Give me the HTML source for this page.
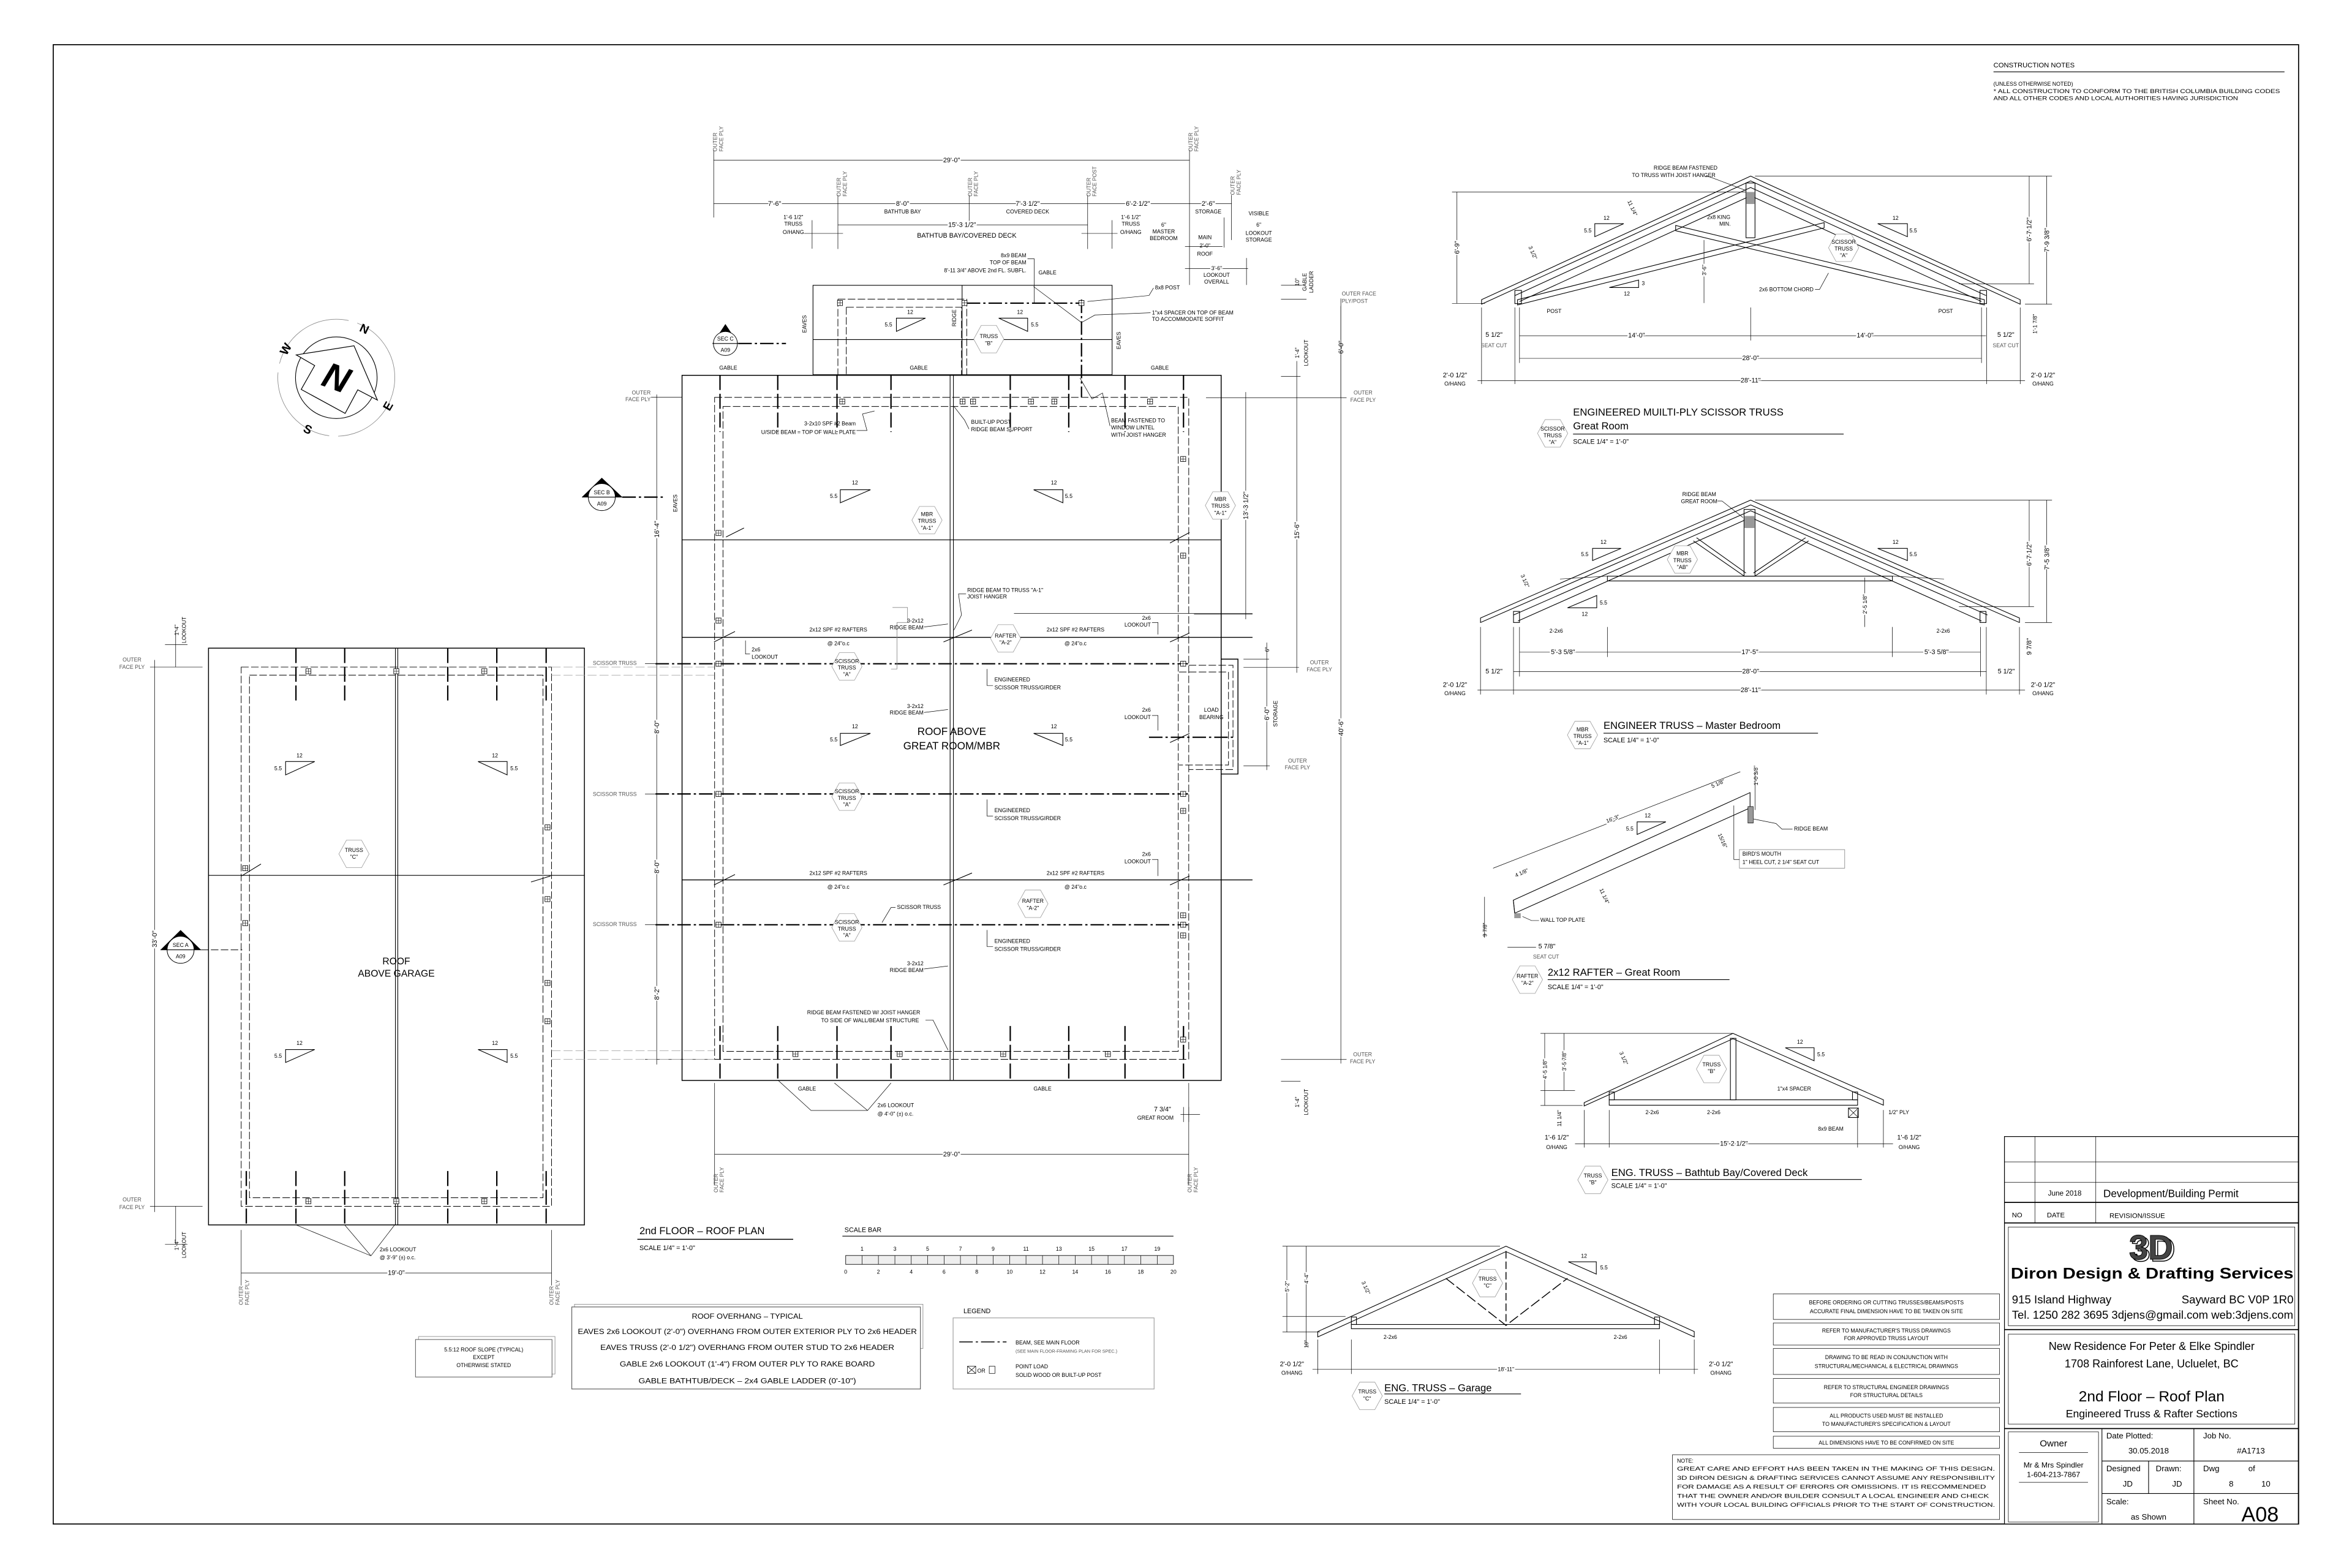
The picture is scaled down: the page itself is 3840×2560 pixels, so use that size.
<!DOCTYPE html>
<html><head><meta charset="utf-8"><style>
html,body{margin:0;padding:0;background:#fff;}
svg{display:block;}
text{font-family:"Liberation Sans",sans-serif;fill:#000;}
.s{font-size:3.6px;}
.m{font-size:4.4px;}
.g{fill:#555;}
.w{paint-order:stroke;stroke:#fff;stroke-width:1.6px;}
.l{stroke:#000;stroke-width:.45;fill:none;}
.lt{stroke:#000;stroke-width:.3;fill:none;}
.th{stroke:#000;stroke-width:.9;fill:none;}
.gr{stroke:#888;stroke-width:.35;fill:none;}
.da{stroke:#000;stroke-width:.4;fill:none;stroke-dasharray:5 1.6;}
.dd{stroke:#000;stroke-width:.9;fill:none;stroke-dasharray:9 2 1.5 2;}
.tk{stroke:#000;stroke-width:.9;fill:none;stroke-dasharray:10 2.5;}
.hx{stroke:#999;stroke-width:.35;fill:#fff;}
</style></head><body>
<svg width="3840" height="2560" viewBox="0 0 1568 1045.33" preserveAspectRatio="none" xmlns="http://www.w3.org/2000/svg">
<rect x="0" y="0" width="1568" height="1046" fill="#fff"/>
<defs>
<symbol id="hx" viewBox="-12 -11 24 22" overflow="visible"><polygon class="hx" points="-11,0 -5.5,-10 5.5,-10 11,0 5.5,10 -5.5,10"/></symbol>
<symbol id="sq" overflow="visible"><rect x="-1.7" y="-1.7" width="3.4" height="3.4" fill="#fff" stroke="#000" stroke-width=".35"/><path d="M-1.7 0H1.7M0 -1.7V1.7" stroke="#000" stroke-width=".25"/></symbol>
</defs>

<!-- border -->
<rect x="35.5" y="29.8" width="1496.9" height="986.2" class="th" style="stroke-width:.7"/>

<!-- construction notes -->
<text x="1329" y="44.9" style="font-size:4.6px">CONSTRUCTION NOTES</text>
<line x1="1329" y1="47.9" x2="1523" y2="47.9" class="l"/>
<text x="1329" y="57.2" class="s">(UNLESS OTHERWISE NOTED)</text>
<text x="1329" y="62" class="s" textLength="191" lengthAdjust="spacingAndGlyphs">* ALL CONSTRUCTION TO CONFORM TO THE BRITISH COLUMBIA BUILDING CODES</text>
<text x="1329" y="66.7" class="s" textLength="163" lengthAdjust="spacingAndGlyphs">AND ALL OTHER CODES AND LOCAL AUTHORITIES HAVING JURISDICTION</text>

<!-- compass -->
<g>
<circle cx="224.2" cy="251.8" r="39" class="gr" stroke-dasharray="60 6"/>
<circle cx="224.2" cy="251.8" r="27.2" class="l"/>
<polygon points="197.5,236.6 236,230.5 251.6,266.7 238.5,259.9 230.1,275.6 200.8,259.6 209.8,243.7" fill="#fff" stroke="#000" stroke-width=".5"/>
<text x="224.2" y="260" text-anchor="middle" transform="rotate(20 224.2 252)" style="font-size:24px;font-weight:bold;font-style:italic">N</text>
<text x="243" y="222" text-anchor="middle" transform="rotate(25 243 219)" style="font-size:8px;font-weight:bold">N</text>
<text x="190.3" y="235.5" text-anchor="middle" transform="rotate(-60 190.3 232.6)" style="font-size:8px;font-weight:bold">W</text>
<text x="258.6" y="273.5" text-anchor="middle" transform="rotate(-60 258.6 270.7)" style="font-size:8px;font-weight:bold">E</text>
<text x="205.3" y="289" text-anchor="middle" transform="rotate(25 205.3 286)" style="font-size:8px;font-weight:bold">S</text>
</g>

<!-- ============ TOP DIMENSIONS ============ -->
<g>
<line x1="475.8" y1="106.8" x2="793" y2="106.8" class="lt"/>
<text x="634.4" y="108.2" text-anchor="middle" class="m w">29'-0"</text>
<line x1="475.8" y1="100" x2="475.8" y2="145" class="lt"/>
<line x1="793" y1="100" x2="793" y2="190" class="lt"/>
<text x="0" y="0" class="s g" transform="translate(478,101) rotate(-90)">OUTER</text>
<text x="0" y="0" class="s g" transform="translate(482,101) rotate(-90)">FACE PLY</text>
<text x="0" y="0" class="s g" transform="translate(795,101) rotate(-90)">OUTER</text>
<text x="0" y="0" class="s g" transform="translate(799,101) rotate(-90)">FACE PLY</text>
<line x1="475.8" y1="135.7" x2="821" y2="135.7" class="lt"/>
<text x="516.4" y="137.1" text-anchor="middle" class="m w">7'-6"</text>
<text x="601.7" y="137.1" text-anchor="middle" class="m w">8'-0"</text>
<text x="685.1" y="137.1" text-anchor="middle" class="m w">7'-3 1/2"</text>
<text x="758.6" y="137.1" text-anchor="middle" class="m w">6'-2 1/2"</text>
<text x="805.5" y="137.1" text-anchor="middle" class="m w">2'-6"</text>
<text x="601.7" y="142.4" text-anchor="middle" class="s">BATHTUB BAY</text>
<text x="685.1" y="142.4" text-anchor="middle" class="s">COVERED DECK</text>
<text x="805.5" y="142.4" text-anchor="middle" class="s">STORAGE</text>
<line x1="558.6" y1="130" x2="558.6" y2="166" class="lt"/>
<line x1="646.1" y1="130" x2="646.1" y2="150" class="lt"/>
<line x1="725.1" y1="130" x2="725.1" y2="166" class="lt"/>
<line x1="821" y1="130" x2="821" y2="160" class="lt"/>
<text class="s g" transform="translate(560.5,131) rotate(-90)">OUTER</text><text class="s g" transform="translate(564.5,131) rotate(-90)">FACE PLY</text>
<text class="s g" transform="translate(648,131) rotate(-90)">OUTER</text><text class="s g" transform="translate(652,131) rotate(-90)">FACE PLY</text>
<text class="s g" transform="translate(727,131) rotate(-90)">OUTER</text><text class="s g" transform="translate(731,131) rotate(-90)">FACE POST</text>
<text class="s g" transform="translate(823,130) rotate(-90)">OUTER</text><text class="s g" transform="translate(827,130) rotate(-90)">FACE PLY</text>
<line x1="558.6" y1="149.9" x2="725.1" y2="149.9" class="lt"/>
<text x="641.4" y="151.3" text-anchor="middle" class="m w">15'-3 1/2"</text>
<text x="644.5" y="158.4" text-anchor="middle" class="m">BATHTUB BAY/COVERED DECK</text>
<line x1="541.4" y1="146.8" x2="541.4" y2="165.8" class="lt"/>
<line x1="741.4" y1="146.8" x2="741.4" y2="165.8" class="lt"/>
<line x1="536" y1="155.6" x2="562" y2="155.6" class="lt"/>
<line x1="721" y1="155.6" x2="745" y2="155.6" class="lt"/>
<text x="528.9" y="146" text-anchor="middle" class="s">1'-6 1/2"</text><text x="528.9" y="150.5" text-anchor="middle" class="s">TRUSS</text><text x="528.9" y="156" text-anchor="middle" class="s">O/HANG</text>
<text x="753.9" y="146" text-anchor="middle" class="s">1'-6 1/2"</text><text x="753.9" y="150.5" text-anchor="middle" class="s">TRUSS</text><text x="753.9" y="156" text-anchor="middle" class="s">O/HANG</text>
<text x="775.8" y="151" text-anchor="middle" class="s">6"</text><text x="775.8" y="155.5" text-anchor="middle" class="s">MASTER</text><text x="775.8" y="160" text-anchor="middle" class="s">BEDROOM</text>
<text x="803.3" y="159.5" text-anchor="middle" class="s">MAIN</text><text x="803.3" y="165" text-anchor="middle" class="s">2'-0"</text><text x="803.3" y="170.5" text-anchor="middle" class="s">ROOF</text>
<text x="839.2" y="143.5" text-anchor="middle" class="s">VISIBLE</text><text x="839.2" y="151" text-anchor="middle" class="s">6"</text><text x="839.2" y="156.5" text-anchor="middle" class="s">LOOKOUT</text><text x="839.2" y="161" text-anchor="middle" class="s">STORAGE</text>
<line x1="790" y1="164.4" x2="815" y2="164.4" class="lt"/>
<line x1="790" y1="179" x2="832" y2="179" class="lt"/>
<line x1="816" y1="145" x2="816" y2="165" class="lt"/>
<line x1="831" y1="172" x2="831" y2="190" class="lt"/>
<text x="811.1" y="180" text-anchor="middle" class="s w">3'-6"</text><text x="811.1" y="184.5" text-anchor="middle" class="s">LOOKOUT</text><text x="811.1" y="189" text-anchor="middle" class="s">OVERALL</text>
</g>

<!-- ============ BAY (top) ============ -->
<g>
<rect x="542" y="190.2" width="199.4" height="59.6" class="l"/>
<line x1="641.4" y1="190.2" x2="641.4" y2="250" class="l"/>
<line x1="542" y1="226.4" x2="741.4" y2="226.4" class="l"/>
<path d="M558.6 199.4H644.5V250M558.6 199.4V250" class="da"/>
<path d="M564.2 204.8H641V250M564.2 204.8V250" class="da"/>
<line x1="644.5" y1="202.1" x2="721" y2="202.1" class="dd"/>
<line x1="721" y1="199.7" x2="721" y2="264.7" class="dd"/>
<use href="#sq" x="560" y="202"/><use href="#sq" x="643" y="202"/><use href="#sq" x="721" y="202"/>
<text class="s" transform="translate(537.5,216) rotate(-90)" text-anchor="middle">EAVES</text>
<text class="s" transform="translate(637.5,212) rotate(-90)" text-anchor="middle">RIDGE</text>
<text class="s" transform="translate(747,227) rotate(-90)" text-anchor="middle">EAVES</text>
<polygon points="597.6,220.9 597.6,212.1 617,212.1" class="l"/><text x="604.8" y="209.2" class="s">12</text><text x="592.3" y="217.6" class="s" text-anchor="middle">5.5</text>
<polygon points="665.8,212.1 685.1,212.1 685.1,220.9" class="l"/><text x="678" y="209.2" class="s">12</text><text x="689.8" y="217.6" class="s" text-anchor="middle">5.5</text>
<use href="#hx" x="648.2" y="215.1" width="22" height="22"/>
<text x="659.2" y="225.5" class="s" text-anchor="middle">TRUSS</text><text x="659.2" y="230" class="s" text-anchor="middle">"B"</text>
<text x="684.2" y="171.4" class="s" text-anchor="end">8x9 BEAM</text>
<text x="684.2" y="176.2" class="s" text-anchor="end">TOP OF BEAM</text>
<text x="684.2" y="181.5" class="s" text-anchor="end">8'-11 3/4" ABOVE 2nd FL. SUBFL.</text>
<path d="M685 172.5H689.5V202" class="lt"/>
<text x="698.3" y="183" class="s" text-anchor="middle">GABLE</text>
<text x="770" y="193" class="s">8x8 POST</text><path d="M769 192 L766 197 L725 201" class="lt"/>
<text x="768" y="209.6" class="s">1"x4 SPACER ON TOP OF BEAM</text>
<text x="768" y="214" class="s">TO ACCOMMODATE SOFFIT</text>
<path d="M767 208.5 L730 210 L721 215" class="lt"/>
<path d="M689 191 L721 215" class="lt"/>
<!-- sec C -->
<polygon points="475,229 483.6,216 492.2,229" fill="#000"/>
<circle cx="483.6" cy="229" r="8" fill="#fff" stroke="#000" stroke-width=".4"/>
<line x1="475" y1="229" x2="492.2" y2="229" class="l"/>
<text x="483.6" y="227" class="s" text-anchor="middle">SEC C</text><text x="483.6" y="234.5" class="s" text-anchor="middle">A09</text>
<line x1="492.2" y1="229" x2="524" y2="229" class="dd"/>
</g>

<!-- ============ MAIN PLAN ============ -->
<g>
<rect x="454.7" y="250.2" width="359.4" height="470.1" class="l" style="stroke-width:.6"/>
<path d="M814.1 439.4H825.3V516H814.1" class="l" style="stroke-width:.6"/>
<rect x="476.4" y="264.9" width="316.1" height="441.3" class="da"/>
<rect x="482" y="271" width="303.5" height="429.9" class="da"/>
<path d="M792.5 443.5H822V513H792.5M786 448H819V510H786" class="da"/>
<line x1="633.4" y1="250" x2="633.4" y2="720" class="l"/>
<line x1="635.6" y1="250" x2="635.6" y2="720" class="l"/>
<line x1="454.7" y1="359.9" x2="814.1" y2="359.9" class="l"/>
<line x1="454.7" y1="424.9" x2="835" y2="424.9" class="th" style="stroke-width:.6"/>
<line x1="454.7" y1="586.6" x2="835" y2="586.6" class="th" style="stroke-width:.6"/>
<line x1="437" y1="442.5" x2="792" y2="442.5" class="dd"/>
<line x1="437" y1="529.3" x2="792" y2="529.3" class="dd"/>
<line x1="437" y1="616.5" x2="792" y2="616.5" class="dd"/>
<line x1="766" y1="491.5" x2="824" y2="491.5" class="dd"/>
<line x1="676" y1="409" x2="835" y2="409" class="lt"/>
<!-- ticks top & bottom -->
<path d="M480 250V288M518.5 250V288M558 250V288M594 250V288M673.5 250V288M712.5 250V288M750 250V288M789 250V288" class="tk"/>
<path d="M480 684V720M518.5 684V720M558 684V720M594 684V720M673.5 684V720M712.5 684V720M750 684V720M789 684V720" class="tk"/>
<!-- diagonal ticks -->
<path d="M476 428L490 421M484 358L496 352M476 590L490 583M629 428L648 420M629 590L648 582M780 428L793 422M780 590L793 584M780 362L793 355M780 495L793 489M487 358" class="l"/>
<!-- squares -->
<use href="#sq" x="561.5" y="267.7"/><use href="#sq" x="641.7" y="267.7"/><use href="#sq" x="648.7" y="267.7"/><use href="#sq" x="687.3" y="267.7"/><use href="#sq" x="702.9" y="267.7"/><use href="#sq" x="766.7" y="267.7"/>
<use href="#sq" x="530.3" y="702.7"/><use href="#sq" x="599.8" y="702.7"/><use href="#sq" x="668.8" y="702.7"/><use href="#sq" x="738.6" y="702.7"/>
<use href="#sq" x="479" y="355.3"/><use href="#sq" x="479" y="413.7"/><use href="#sq" x="479" y="442.5"/><use href="#sq" x="479" y="529.3"/><use href="#sq" x="479" y="616.5"/>
<use href="#sq" x="788.8" y="306"/><use href="#sq" x="788.8" y="370.4"/><use href="#sq" x="788.8" y="442.5"/><use href="#sq" x="788.8" y="529.3"/><use href="#sq" x="788.8" y="540.6"/><use href="#sq" x="788.8" y="610.2"/><use href="#sq" x="788.8" y="616.5"/><use href="#sq" x="788.8" y="623.6"/><use href="#sq" x="788.8" y="693"/>
<!-- labels -->
<text x="485.5" y="246.5" class="s" text-anchor="middle">GABLE</text>
<text x="612.5" y="246.5" class="s" text-anchor="middle">GABLE</text>
<text x="773.2" y="246.5" class="s" text-anchor="middle">GABLE</text>
<text x="570.5" y="283.5" class="s" text-anchor="end">3-2x10 SPF #2 Beam</text>
<text x="570.5" y="289.3" class="s" text-anchor="end">U/SIDE BEAM = TOP OF WALL PLATE</text>
<path d="M571 287L578 287L575 276L583 274" class="lt"/>
<text x="647.4" y="282.6" class="s">BUILT-UP POST</text><text x="647.4" y="287.5" class="s">RIDGE BEAM SUPPORT</text>
<path d="M646 286L643 280L636 271" class="lt"/>
<text x="740.7" y="281.6" class="s">BEAM FASTENED TO</text><text x="740.7" y="286.2" class="s">WINDOW LINTEL</text><text x="740.7" y="291.1" class="s">WITH JOIST HANGER</text>
<path d="M740 284L735 262L728 266L720 252" class="lt"/>
<polygon points="560.2,335.2 560.2,326.5 580.3,326.5" class="l"/><text x="568" y="323" class="s">12</text><text x="555.8" y="332" class="s" text-anchor="middle">5.5</text>
<polygon points="689.1,326.5 708.6,326.5 708.6,335.2" class="l"/><text x="700.6" y="323" class="s">12</text><text x="712.5" y="332" class="s" text-anchor="middle">5.5</text>
<use href="#hx" x="607" y="335.8" width="22" height="22"/>
<text x="618" y="344" class="s" text-anchor="middle">MBR</text><text x="618" y="348.6" class="s" text-anchor="middle">TRUSS</text><text x="618" y="353.2" class="s" text-anchor="middle">"A-1"</text>
<use href="#hx" x="802.6" y="326" width="22" height="22"/>
<text x="813.6" y="334" class="s" text-anchor="middle">MBR</text><text x="813.6" y="338.6" class="s" text-anchor="middle">TRUSS</text><text x="813.6" y="343.2" class="s" text-anchor="middle">"A-1"</text>
<text x="644.8" y="394.6" class="s">RIDGE BEAM TO TRUSS "A-1"</text><text x="644.8" y="399" class="s">JOIST HANGER</text>
<path d="M644 396L639 396L641 410L636 420" class="lt"/>
<path d="M595 405H605V415H598V446H594" class="gr"/>
<text x="615.7" y="415" class="s" text-anchor="end">3-2x12</text><text x="615.7" y="419.5" class="s" text-anchor="end">RIDGE BEAM</text>
<path d="M616 418L632 416" class="lt"/>
<text x="558.9" y="421" class="s" text-anchor="middle">2x12 SPF #2 RAFTERS</text><text x="558.9" y="430.2" class="s" text-anchor="middle">@ 24"o.c</text>
<text x="717" y="421" class="s" text-anchor="middle">2x12 SPF #2 RAFTERS</text><text x="717" y="430.2" class="s" text-anchor="middle">@ 24"o.c</text>
<use href="#hx" x="659.4" y="414.6" width="22" height="22"/>
<text x="670.4" y="425" class="s" text-anchor="middle">RAFTER</text><text x="670.4" y="429.6" class="s" text-anchor="middle">"A-2"</text>
<text x="501.1" y="434.3" class="s">2x6</text><text x="501.1" y="439.2" class="s">LOOKOUT</text>
<path d="M500 436H497V427" class="lt"/>
<text x="767.2" y="413.2" class="s" text-anchor="end">2x6</text><text x="767.2" y="417.8" class="s" text-anchor="end">LOOKOUT</text>
<path d="M768 415H772V423" class="lt"/>
<use href="#hx" x="553.6" y="433.3" width="22" height="22"/>
<text x="564.6" y="442" class="s" text-anchor="middle">SCISSOR</text><text x="564.6" y="446.4" class="s" text-anchor="middle">TRUSS</text><text x="564.6" y="450.8" class="s" text-anchor="middle">"A"</text>
<use href="#hx" x="553.6" y="520.1" width="22" height="22"/>
<text x="564.6" y="528.8" class="s" text-anchor="middle">SCISSOR</text><text x="564.6" y="533.2" class="s" text-anchor="middle">TRUSS</text><text x="564.6" y="537.6" class="s" text-anchor="middle">"A"</text>
<use href="#hx" x="553.6" y="607.3" width="22" height="22"/>
<text x="564.6" y="616" class="s" text-anchor="middle">SCISSOR</text><text x="564.6" y="620.4" class="s" text-anchor="middle">TRUSS</text><text x="564.6" y="624.8" class="s" text-anchor="middle">"A"</text>
<text x="663" y="454.3" class="s">ENGINEERED</text><text x="663" y="459.6" class="s">SCISSOR TRUSS/GIRDER</text>
<path d="M662 457H658V446" class="lt"/>
<text x="663" y="541.5" class="s">ENGINEERED</text><text x="663" y="546.7" class="s">SCISSOR TRUSS/GIRDER</text>
<path d="M662 544H658V533" class="lt"/>
<text x="663" y="628.7" class="s">ENGINEERED</text><text x="663" y="634" class="s">SCISSOR TRUSS/GIRDER</text>
<path d="M662 631H658V620" class="lt"/>
<text x="615.7" y="472" class="s" text-anchor="end">3-2x12</text><text x="615.7" y="476.4" class="s" text-anchor="end">RIDGE BEAM</text>
<path d="M616 475L632 473" class="lt"/>
<text x="615.7" y="643.5" class="s" text-anchor="end">3-2x12</text><text x="615.7" y="648" class="s" text-anchor="end">RIDGE BEAM</text>
<path d="M616 646L632 644" class="lt"/>
<text x="634.5" y="490" style="font-size:7px" text-anchor="middle">ROOF ABOVE</text>
<text x="634.5" y="499.5" style="font-size:7px" text-anchor="middle">GREAT ROOM/MBR</text>
<polygon points="560.2,497 560.2,488.9 580.3,488.9" class="l"/><text x="568" y="485.5" class="s">12</text><text x="555.8" y="494.3" class="s" text-anchor="middle">5.5</text>
<polygon points="689.1,488.9 708.6,488.9 708.6,497" class="l"/><text x="700.6" y="485.5" class="s">12</text><text x="712.5" y="494.3" class="s" text-anchor="middle">5.5</text>
<text x="767.2" y="474.4" class="s" text-anchor="end">2x6</text><text x="767.2" y="479.3" class="s" text-anchor="end">LOOKOUT</text>
<path d="M768 477H772V487" class="lt"/>
<text x="807.6" y="474.4" class="s" text-anchor="middle">LOAD</text><text x="807.6" y="479.3" class="s" text-anchor="middle">BEARING</text>
<text x="767.2" y="570.7" class="s" text-anchor="end">2x6</text><text x="767.2" y="575.6" class="s" text-anchor="end">LOOKOUT</text>
<path d="M768 573H772V584" class="lt"/>
<text x="558.9" y="583.4" class="s" text-anchor="middle">2x12 SPF #2 RAFTERS</text><text x="558.9" y="592.5" class="s" text-anchor="middle">@ 24"o.c</text>
<text x="717" y="583.4" class="s" text-anchor="middle">2x12 SPF #2 RAFTERS</text><text x="717" y="592.5" class="s" text-anchor="middle">@ 24"o.c</text>
<text x="598" y="606" class="s">SCISSOR TRUSS</text><path d="M597 605H594L588 615" class="lt"/>
<use href="#hx" x="677.6" y="591.5" width="22" height="22"/>
<text x="688.6" y="601.9" class="s" text-anchor="middle">RAFTER</text><text x="688.6" y="606.5" class="s" text-anchor="middle">"A-2"</text>
<text x="575.8" y="676.2" class="s" text-anchor="middle">RIDGE BEAM FASTENED W/ JOIST HANGER</text>
<text x="580" y="681.5" class="s" text-anchor="middle">TO SIDE OF WALL/BEAM STRUCTURE</text>
<path d="M617 680L622 680L632 700" class="lt"/>
<text x="538" y="727" class="s" text-anchor="middle">GABLE</text>
<text x="695" y="727" class="s" text-anchor="middle">GABLE</text>
<path d="M518.5 720L540.7 740.3L578.4 740.3M556.3 722L578.4 740.3L594 722" class="lt"/>
<text x="585" y="738" class="s">2x6 LOOKOUT</text><text x="585" y="743.7" class="s">@ 4'-0" (±) o.c.</text>
<text x="775" y="741" class="m" text-anchor="middle">7 3/4"</text><text x="770.3" y="746.5" class="s" text-anchor="middle">GREAT ROOM</text>
<path d="M787 743H800M789 738V748M792.5 738V748" class="lt"/>
<line x1="476.4" y1="769.5" x2="792.5" y2="769.5" class="lt"/>
<text x="634.4" y="771" class="m w" text-anchor="middle">29'-0"</text>
<path d="M476.4 722V790M792.5 722V790" class="lt"/>
<text class="s g" transform="translate(478.5,795) rotate(-90)">OUTER</text><text class="s g" transform="translate(482.5,795) rotate(-90)">FACE PLY</text>
<text class="s g" transform="translate(794.5,795) rotate(-90)">OUTER</text><text class="s g" transform="translate(798.5,795) rotate(-90)">FACE PLY</text>
<!-- left dims -->
<line x1="437.8" y1="263" x2="437.8" y2="709.7" class="lt"/>
<path d="M434 264.8H454.7M430 442.5H440M430 529.3H440M430 616.5H440M430 706.2H476" class="lt"/>
<text class="m w" transform="translate(439.3,352.8) rotate(-90)" text-anchor="middle">16'-4"</text>
<text class="m w" transform="translate(439.3,484.7) rotate(-90)" text-anchor="middle">8'-0"</text>
<text class="m w" transform="translate(439.3,577.9) rotate(-90)" text-anchor="middle">8'-0"</text>
<text class="m w" transform="translate(439.3,662.2) rotate(-90)" text-anchor="middle">8'-2"</text>
<text class="s" transform="translate(451.5,335.5) rotate(-90)" text-anchor="middle">EAVES</text>
<text x="433.8" y="263" class="s g" text-anchor="end">OUTER</text><text x="433.8" y="267.5" class="s g" text-anchor="end">FACE PLY</text>
<!-- SEC B -->
<polygon points="387.9,331.4 401.2,318.5 414.9,331.4" fill="#000"/>
<circle cx="401.2" cy="331.4" r="9" fill="#fff" stroke="#000" stroke-width=".4"/>
<line x1="388" y1="331.4" x2="414.9" y2="331.4" class="l"/>
<text x="401.2" y="329.5" class="s" text-anchor="middle">SEC B</text><text x="401.2" y="337" class="s" text-anchor="middle">A09</text>
<line x1="414.9" y1="331.4" x2="442.6" y2="331.4" class="dd"/>
<!-- right dims -->
<line x1="830.5" y1="261.4" x2="830.5" y2="412.8" class="lt"/>
<text class="m w" transform="translate(832,337) rotate(-90)" text-anchor="middle">13'-3 1/2"</text>
<line x1="864.5" y1="240.7" x2="864.5" y2="448.5" class="lt"/>
<text class="m w" transform="translate(866,353.7) rotate(-90)" text-anchor="middle">15'-6"</text>
<text class="s" transform="translate(866,235.2) rotate(-90)" text-anchor="middle">1'-4"</text>
<text class="s" transform="translate(872,235.2) rotate(-90)" text-anchor="middle">LOOKOUT</text>
<line x1="893.9" y1="204" x2="893.9" y2="709" class="lt"/>
<text class="m w" transform="translate(895.4,485) rotate(-90)" text-anchor="middle">40'-6"</text>
<text class="m w" transform="translate(895.4,231.5) rotate(-90)" text-anchor="middle">6'-0"</text>
<line x1="844.5" y1="428.4" x2="844.5" y2="513.4" class="lt"/>
<text class="m w" transform="translate(846,475.8) rotate(-90)" text-anchor="middle">6'-0"</text>
<text class="s" transform="translate(851.5,475.8) rotate(-90)" text-anchor="middle">STORAGE</text>
<text class="s" transform="translate(846,433) rotate(-90)" text-anchor="middle">6"</text>
<path d="M804 265.1H897.7M829 444.8H866M829 510.5H846.5M854 250.9H867M829 439.4H846M796 409.5H835M854 706.3H897.7M854 720.8H867M854 199.4H871M854 190.2H868" class="lt"/>
<text x="908.7" y="263" class="s g" text-anchor="middle">OUTER</text><text x="908.7" y="267.8" class="s g" text-anchor="middle">FACE PLY</text>
<text x="879.6" y="442.8" class="s g" text-anchor="middle">OUTER</text><text x="879.6" y="447.5" class="s g" text-anchor="middle">FACE PLY</text>
<text x="865" y="508.4" class="s g" text-anchor="middle">OUTER</text><text x="865" y="512.8" class="s g" text-anchor="middle">FACE PLY</text>
<text x="908.4" y="704.2" class="s g" text-anchor="middle">OUTER</text><text x="908.4" y="708.9" class="s g" text-anchor="middle">FACE PLY</text>
<text class="s" transform="translate(866,734.7) rotate(-90)" text-anchor="middle">1'-4"</text>
<text class="s" transform="translate(872,734.7) rotate(-90)" text-anchor="middle">LOOKOUT</text>
<text class="s" transform="translate(866,188) rotate(-90)" text-anchor="middle">10"</text>
<text class="s" transform="translate(871,188) rotate(-90)" text-anchor="middle">GABLE</text>
<text class="s" transform="translate(875.5,188) rotate(-90)" text-anchor="middle">LADDER</text>
<text x="894.5" y="197" class="s g">OUTER FACE</text><text x="894.5" y="202" class="s g">PLY/POST</text>
<line x1="893.9" y1="199" x2="893.9" y2="265" class="lt"/>
</g>

<!-- ============ GARAGE ============ -->
<g>
<rect x="139" y="432.1" width="250.6" height="384.5" class="l" style="stroke-width:.6"/>
<rect x="160.8" y="444.7" width="206.9" height="359.5" class="da"/>
<rect x="166.3" y="450.1" width="195.7" height="348.4" class="da"/>
<line x1="263.6" y1="432.1" x2="263.6" y2="816.6" class="l"/>
<line x1="265.2" y1="432.1" x2="265.2" y2="816.6" class="l"/>
<line x1="139" y1="583.6" x2="389.6" y2="583.6" class="l"/>
<path d="M197.3 432V468.5M229.8 432V468.5M298.5 432V468.5M331.2 432V468.5M364.1 432V468.5" class="tk"/>
<path d="M164.2 780.7V816.6M197.3 780.7V816.6M229.8 780.7V816.6M298.5 780.7V816.6M331.2 780.7V816.6M364.1 780.7V816.6" class="tk"/>
<use href="#sq" x="205.6" y="447.5"/><use href="#sq" x="264.2" y="447.5"/><use href="#sq" x="322.9" y="447.5"/>
<use href="#sq" x="205.6" y="800.8"/><use href="#sq" x="264.2" y="800.8"/><use href="#sq" x="322.9" y="800.8"/>
<use href="#sq" x="163.5" y="578.8"/><use href="#sq" x="163.5" y="615.4"/>
<use href="#sq" x="365" y="551.6"/><use href="#sq" x="365" y="599.4"/><use href="#sq" x="365" y="655.3"/><use href="#sq" x="365" y="680.8"/>
<path d="M161 584L174 576M354 588L367 584" class="l"/>
<polygon points="190.4,516.6 190.4,507.7 209.8,507.7" class="l"/><text x="197.7" y="505" class="s">12</text><text x="185.4" y="513.5" class="s" text-anchor="middle">5.5</text>
<polygon points="318.7,507.7 338.1,507.7 338.1,516.6" class="l"/><text x="328" y="505" class="s">12</text><text x="342.7" y="513.5" class="s" text-anchor="middle">5.5</text>
<polygon points="190.4,708.3 190.4,699.7 209.8,699.7" class="l"/><text x="197.7" y="696.7" class="s">12</text><text x="185.4" y="705.2" class="s" text-anchor="middle">5.5</text>
<polygon points="318.7,699.7 338.1,699.7 338.1,708.3" class="l"/><text x="328" y="696.7" class="s">12</text><text x="342.7" y="705.2" class="s" text-anchor="middle">5.5</text>
<use href="#hx" x="225" y="558.3" width="22" height="22"/>
<text x="236" y="568" class="s" text-anchor="middle">TRUSS</text><text x="236" y="572.5" class="s" text-anchor="middle">"C"</text>
<text x="264.2" y="643" style="font-size:6.4px" text-anchor="middle">ROOF</text>
<text x="264.2" y="651" style="font-size:6.4px" text-anchor="middle">ABOVE GARAGE</text>
<!-- SEC A -->
<polygon points="107,633.2 120.4,620 134,633.2" fill="#000"/>
<circle cx="120.4" cy="633.2" r="9" fill="#fff" stroke="#000" stroke-width=".4"/>
<line x1="107" y1="633.2" x2="134" y2="633.2" class="l"/>
<text x="120.4" y="631.3" class="s" text-anchor="middle">SEC A</text><text x="120.4" y="638.8" class="s" text-anchor="middle">A09</text>
<line x1="134" y1="633.2" x2="161.5" y2="633.2" class="da"/>
<line x1="103.1" y1="440" x2="103.1" y2="808" class="lt"/>
<text class="m w" transform="translate(104.6,626) rotate(-90)" text-anchor="middle">33'-0"</text>
<path d="M100 444.7H135M100 804.2H135M110 429.8H125M117.1 419.8V444.7M117.1 804V829.5M110 829.5H125" class="lt"/>
<text x="88" y="441" class="s g" text-anchor="middle">OUTER</text><text x="88" y="446" class="s g" text-anchor="middle">FACE PLY</text>
<text x="88" y="801" class="s g" text-anchor="middle">OUTER</text><text x="88" y="806" class="s g" text-anchor="middle">FACE PLY</text>
<text class="s" transform="translate(119,420) rotate(-90)" text-anchor="middle">1'-4"</text><text class="s" transform="translate(124,420) rotate(-90)" text-anchor="middle">LOOKOUT</text>
<text class="s" transform="translate(119,830) rotate(-90)" text-anchor="middle">1'-4"</text><text class="s" transform="translate(124,830) rotate(-90)" text-anchor="middle">LOOKOUT</text>
<path d="M197.3 816.6L247.3 837.2L229.8 816.6M247.3 837.2L263.1 816.6" class="lt"/>
<text x="253.1" y="834.3" class="s">2x6 LOOKOUT</text><text x="253.1" y="839.6" class="s">@ 3'-9" (±) o.c.</text>
<line x1="160.8" y1="848.6" x2="367.7" y2="848.6" class="lt"/>
<path d="M160.8 820V857M367.7 820V857" class="lt"/>
<text x="264.2" y="850" class="m w" text-anchor="middle">19'-0"</text>
<text class="s g" transform="translate(162,870) rotate(-90)">OUTER</text><text class="s g" transform="translate(166,870) rotate(-90)">FACE PLY</text>
<text class="s g" transform="translate(369,870) rotate(-90)">OUTER</text><text class="s g" transform="translate(373,870) rotate(-90)">FACE PLY</text>
<!-- connectors garage-main -->
<path d="M367.7 444.7H476M367.7 450.1H476M367.7 700.5H476M367.7 706.2H476" stroke="#aaa" stroke-width=".35" stroke-dasharray="6 2" fill="none"/>
<text x="395.2" y="443.3" class="s g">SCISSOR TRUSS</text>
<text x="395.2" y="530.6" class="s g">SCISSOR TRUSS</text>
<text x="395.2" y="617.5" class="s g">SCISSOR TRUSS</text>
</g>

<!-- ============ SCISSOR TRUSS ============ -->
<g>
<polygon points="987.7,199.8 1167.1,117.4 1346.8,199.8 1346.8,202.8 1167.1,120.6 987.7,202.8" class="l"/>
<polyline points="1010,197 1167.1,125 1324,197" class="l"/>
<polyline points="1013,201 1167.1,130.5 1321,201" class="l"/>
<polygon points="1011.7,199.8 1216.1,148.4 1216.1,151.9 1011.7,203.3" class="l"/>
<polygon points="1322.9,199.8 1117.1,150.3 1117.1,153.8 1322.9,203.3" class="l" fill="#fff" fill-opacity="0"/>
<rect x="1164" y="122" width="6" height="36.5" class="l"/>
<rect x="1164.3" y="128" width="5.4" height="8" fill="#999"/>
<rect x="1009.9" y="193.6" width="4.4" height="8.8" class="l"/>
<rect x="1320" y="193.6" width="4.4" height="8.8" class="l"/>
<text x="1123.7" y="113.2" class="s" text-anchor="middle">RIDGE BEAM FASTENED</text>
<text x="1115.8" y="118" class="s" text-anchor="middle">TO TRUSS WITH JOIST HANGER</text>
<path d="M1137 117.5L1140 118L1164 127" class="lt"/>
<text x="1145.8" y="146" class="s" text-anchor="middle">2x8 KING</text><text x="1150" y="150.5" class="s" text-anchor="middle">MIN.</text>
<polygon points="1063.2,157.8 1063.2,149.1 1082.5,149.1" class="l"/><text x="1069" y="146.6" class="s">12</text><text x="1058.5" y="155" class="s" text-anchor="middle">5.5</text>
<polygon points="1251.8,149.1 1271.6,149.1 1271.6,157.8" class="l"/><text x="1261.7" y="146.6" class="s">12</text><text x="1275.5" y="155" class="s" text-anchor="middle">5.5</text>
<polygon points="1072.9,191.7 1092.4,186.7 1092.4,191.7" class="l"/><text x="1094.5" y="190" class="s">3</text><text x="1082.6" y="197" class="s">12</text>
<text class="s" transform="translate(1087.2,139.2) rotate(66)" text-anchor="middle">11 1/4"</text>
<text class="s" transform="translate(1020.8,168.9) rotate(66)" text-anchor="middle">3 1/2"</text>
<line x1="1136" y1="160" x2="1136" y2="202" class="lt"/>
<text class="s w" transform="translate(1137.5,180) rotate(-90)" text-anchor="middle">3'-6"</text>
<use href="#hx" x="1218.1" y="154.2" width="22" height="22"/>
<text x="1229.1" y="162.5" class="s" text-anchor="middle">SCISSOR</text><text x="1229.1" y="167" class="s" text-anchor="middle">TRUSS</text><text x="1229.1" y="171.5" class="s" text-anchor="middle">"A"</text>
<text x="1209" y="194.2" class="s" text-anchor="end">2x6 BOTTOM CHORD</text><path d="M1210 193H1213L1219 182" class="lt"/>
<text x="1031.2" y="208.6" class="s">POST</text><text x="1302" y="208.6" class="s" text-anchor="end">POST</text>
<line x1="1013" y1="223.8" x2="1324" y2="223.8" class="lt"/>
<line x1="1013" y1="238.9" x2="1321" y2="238.9" class="lt"/>
<line x1="985" y1="253.8" x2="1350" y2="253.8" class="lt"/>
<path d="M987.7 205V256M1009.9 205V256M1013 205V242M1167.1 205V227M1321 205V242M1324.4 205V256M1346.8 205V256" class="lt"/>
<text x="1091" y="225" class="m w" text-anchor="middle">14'-0"</text><text x="1243.4" y="225" class="m w" text-anchor="middle">14'-0"</text>
<text x="1167.1" y="240.2" class="m w" text-anchor="middle">28'-0"</text><text x="1167.1" y="255.1" class="m w" text-anchor="middle">28'-11"</text>
<text x="996" y="224.6" class="m" text-anchor="middle">5 1/2"</text><text x="996" y="231.5" class="s g" text-anchor="middle">SEAT CUT</text>
<text x="1337.2" y="224.6" class="m" text-anchor="middle">5 1/2"</text><text x="1337.2" y="231.5" class="s g" text-anchor="middle">SEAT CUT</text>
<text x="970" y="251.5" class="m" text-anchor="middle">2'-0 1/2"</text><text x="970" y="257" class="s" text-anchor="middle">O/HANG</text>
<text x="1362" y="251.5" class="m" text-anchor="middle">2'-0 1/2"</text><text x="1362" y="257" class="s" text-anchor="middle">O/HANG</text>
<line x1="971.3" y1="128" x2="971.3" y2="202.3" class="lt"/><path d="M968 128H1164M968 202.3H990" class="lt"/>
<text class="m w" transform="translate(972.8,165) rotate(-90)" text-anchor="middle">6'-9"</text>
<line x1="1352.8" y1="117.4" x2="1352.8" y2="189.2" class="lt"/>
<line x1="1364.5" y1="117.4" x2="1364.5" y2="202.8" class="lt"/>
<path d="M1170 117.4H1368M1306 189.2H1356M1350 202.8H1368" class="lt"/>
<text class="m w" transform="translate(1354.3,153) rotate(-90)" text-anchor="middle">6'-7 1/2"</text>
<text class="m w" transform="translate(1366,160) rotate(-90)" text-anchor="middle">7'-9 3/8"</text>
<text class="s" transform="translate(1358,215.9) rotate(-90)" text-anchor="middle">1'-1 7/8"</text>
<text x="1048.7" y="277" style="font-size:6.8px">ENGINEERED MUILTI-PLY SCISSOR TRUSS</text>
<text x="1048.7" y="286.3" style="font-size:6.8px">Great Room</text>
<line x1="1048.7" y1="289.4" x2="1229.1" y2="289.4" class="l"/>
<text x="1048.7" y="295.8" class="m">SCALE 1/4" = 1'-0"</text>
<use href="#hx" x="1024.1" y="277.9" width="22" height="22"/>
<text x="1035.1" y="287" class="s" text-anchor="middle">SCISSOR</text><text x="1035.1" y="291.5" class="s" text-anchor="middle">TRUSS</text><text x="1035.1" y="296" class="s" text-anchor="middle">"A"</text>
</g>

<!-- ============ MBR TRUSS ============ -->
<g>
<polygon points="987,412 1167.1,333.4 1346.3,412 1346.3,415 1167.1,336.6 987,415" class="l"/>
<polyline points="1009,410 1167.1,340.5 1325,410" class="l"/>
<polyline points="1012,414 1167.1,345 1321,414" class="l"/>
<rect x="1071.6" y="384.1" width="190" height="3.2" class="l"/>
<line x1="1040" y1="396.5" x2="1040" y2="396.5" class="l"/>
<path d="M1040 386L1071.6 384.1M1261.6 384.1L1296 386" class="lt"/>
<rect x="1162.7" y="339.6" width="7.3" height="44.5" class="l"/>
<rect x="1163" y="344" width="6.6" height="8" fill="#999"/>
<path d="M1128.9 360.6L1162.7 384M1131 358.5L1164 382M1205.7 360.6L1170 384M1203.7 358.5L1169 382" class="l"/>
<rect x="1009" y="407.6" width="4" height="7.4" class="l"/><rect x="1320" y="407.6" width="4" height="7.4" class="l"/>
<text x="1132.8" y="330.8" class="s" text-anchor="middle">RIDGE BEAM</text><text x="1132.8" y="335.5" class="s" text-anchor="middle">GREAT ROOM</text>
<path d="M1145 334L1148 334L1162 345" class="lt"/>
<polygon points="1061.7,373.7 1061.7,365.6 1080.7,365.6" class="l"/><text x="1067" y="362.5" class="s">12</text><text x="1056.5" y="370.8" class="s" text-anchor="middle">5.5</text>
<polygon points="1251.8,365.6 1271.6,365.6 1271.6,373.7" class="l"/><text x="1261.7" y="362.5" class="s">12</text><text x="1275.5" y="370.8" class="s" text-anchor="middle">5.5</text>
<polygon points="1045,405.2 1064.5,397 1064.5,405.2" class="l"/><text x="1069" y="403" class="s" text-anchor="middle">5.5</text><text x="1056.5" y="410.6" class="s" text-anchor="middle">12</text>
<use href="#hx" x="1110.6" y="362" width="22" height="22"/>
<text x="1121.6" y="370.2" class="s" text-anchor="middle">MBR</text><text x="1121.6" y="374.8" class="s" text-anchor="middle">TRUSS</text><text x="1121.6" y="379.4" class="s" text-anchor="middle">"AB"</text>
<text class="s" transform="translate(1015.6,387.8) rotate(66)" text-anchor="middle">3 1/2"</text>
<line x1="1243.2" y1="385" x2="1243.2" y2="418" class="lt"/>
<text class="s w" transform="translate(1244.7,402.7) rotate(-90)" text-anchor="middle">2'-5 1/8"</text>
<text x="1033" y="421.9" class="s">2-2x6</text><text x="1300" y="421.9" class="s" text-anchor="end">2-2x6</text>
<line x1="1013" y1="434.8" x2="1320.3" y2="434.8" class="lt"/>
<line x1="1009" y1="447.7" x2="1324.2" y2="447.7" class="lt"/>
<line x1="985" y1="460.1" x2="1350" y2="460.1" class="lt"/>
<path d="M987 418V463M1009 418V463M1013 418V451M1071.6 418V438M1261.6 418V438M1320.3 418V451M1324.2 418V463M1346.3 418V463" class="lt"/>
<text x="1042" y="436" class="m w" text-anchor="middle">5'-3 5/8"</text>
<text x="1166.6" y="436" class="m w" text-anchor="middle">17'-5"</text>
<text x="1291" y="436" class="m w" text-anchor="middle">5'-3 5/8"</text>
<text x="1167.1" y="449" class="m w" text-anchor="middle">28'-0"</text>
<text x="1167.1" y="461.4" class="m w" text-anchor="middle">28'-11"</text>
<text x="996" y="448.9" class="m" text-anchor="middle">5 1/2"</text><text x="1337.5" y="448.9" class="m" text-anchor="middle">5 1/2"</text>
<text x="970" y="458" class="m" text-anchor="middle">2'-0 1/2"</text><text x="970" y="463.5" class="s" text-anchor="middle">O/HANG</text>
<text x="1362" y="458" class="m" text-anchor="middle">2'-0 1/2"</text><text x="1362" y="463.5" class="s" text-anchor="middle">O/HANG</text>
<line x1="1352.8" y1="333.4" x2="1352.8" y2="404.4" class="lt"/>
<line x1="1364.5" y1="333.4" x2="1364.5" y2="415" class="lt"/>
<path d="M1170 333.4H1368M1306 404.4H1356M1350 415H1368" class="lt"/>
<text class="m w" transform="translate(1354.3,369.3) rotate(-90)" text-anchor="middle">6'-7 1/2"</text>
<text class="m w" transform="translate(1366,371.8) rotate(-90)" text-anchor="middle">7'-5 3/8"</text>
<text class="m" transform="translate(1354.3,431) rotate(-90)" text-anchor="middle">9 7/8"</text>
<text x="1069" y="486" style="font-size:6.8px">ENGINEER TRUSS – Master Bedroom</text>
<line x1="1069" y1="488.8" x2="1212" y2="488.8" class="l"/>
<text x="1069" y="494.8" class="m">SCALE 1/4" = 1'-0"</text>
<use href="#hx" x="1044" y="479" width="22" height="22"/>
<text x="1055" y="487.5" class="s" text-anchor="middle">MBR</text><text x="1055" y="492" class="s" text-anchor="middle">TRUSS</text><text x="1055" y="496.5" class="s" text-anchor="middle">"A-1"</text>
</g>

<!-- ============ RAFTER ============ -->
<g>
<polygon points="1008.9,600.1 1166.7,528.4 1166.7,538.6 1009.8,608.8" class="l"/>
<line x1="1008.9" y1="600.1" x2="1009.8" y2="608.8" class="l"/>
<rect x="1165.3" y="537.7" width="3.5" height="11" fill="#999" stroke="#000" stroke-width=".3"/>
<rect x="1009.5" y="608.8" width="4.3" height="3.3" fill="#999"/>
<line x1="995.4" y1="578.8" x2="1160.2" y2="514.5" class="lt"/>
<text class="s w" transform="translate(1075.6,547) rotate(-21.3)" text-anchor="middle">16'-3"</text>
<text class="s" transform="translate(1145.8,523.5) rotate(-24)" text-anchor="middle">5 1/8"</text>
<text class="s" transform="translate(1014.9,583) rotate(-24)" text-anchor="middle">4 1/8"</text>
<text class="s" transform="translate(1068.5,597.9) rotate(66)" text-anchor="middle">11 1/4"</text>
<text class="s" transform="translate(1147.3,561) rotate(66)" text-anchor="middle">15/16"</text>
<polygon points="1091.4,556.3 1091.4,547.9 1110.6,547.9" class="l"/><text x="1096.5" y="545" class="s">12</text><text x="1086.5" y="553.8" class="s" text-anchor="middle">5.5</text>
<text x="1196" y="553.6" class="s">RIDGE BEAM</text><path d="M1195 552.8H1188L1184 549L1169 546" class="lt"/>
<rect x="1159.6" y="566.4" width="70.2" height="12.4" class="gr"/>
<text x="1161.6" y="570.5" class="s">BIRD'S MOUTH</text><text x="1161.6" y="576" class="s">1" HEEL CUT, 2 1/4" SEAT CUT</text>
<path d="M1155.9 537V573H1159.6" class="lt"/>
<line x1="1170" y1="515" x2="1170" y2="540" class="lt"/>
<text class="s" transform="translate(1172,517) rotate(-90)" text-anchor="middle">1'-0 3/8"</text>
<text x="1026.9" y="614.5" class="s">WALL TOP PLATE</text><path d="M1026 613.7H1021L1015 611" class="lt"/>
<line x1="989.7" y1="597.9" x2="989.7" y2="625.2" class="lt"/>
<text class="s" transform="translate(991.2,619.8) rotate(-90)" text-anchor="middle">9 7/8"</text>
<path d="M1005 631.5H1024" class="lt"/>
<text x="1025.6" y="632.3" class="m">5 7/8"</text><text x="1022" y="639" class="s g">SEAT CUT</text>
<text x="1031.8" y="650.5" style="font-size:6.8px">2x12 RAFTER – Great Room</text>
<line x1="1031.8" y1="653.1" x2="1153" y2="653.1" class="l"/>
<text x="1031.8" y="659.5" class="m">SCALE 1/4" = 1'-0"</text>
<use href="#hx" x="1007.3" y="642.1" width="22" height="22"/>
<text x="1018.3" y="652" class="s" text-anchor="middle">RAFTER</text><text x="1018.3" y="656.6" class="s" text-anchor="middle">"A-2"</text>
</g>

<!-- ============ BATHTUB TRUSS ============ -->
<g>
<polygon points="1056.1,735.1 1155.3,688.9 1255.6,733.2 1255.6,736.8 1155.3,692.5 1056.1,737.3" class="l"/>
<rect x="1072.8" y="733.2" width="165.6" height="3.6" class="l"/>
<rect x="1153.6" y="692.2" width="3.7" height="41" class="l"/>
<rect x="1072.8" y="728" width="3.4" height="5.2" class="l"/><rect x="1235" y="728" width="3.4" height="5.2" class="l"/>
<rect x="1232.3" y="738.7" width="6.6" height="6.3" class="l"/><path d="M1232.3 738.7L1238.9 745M1238.9 738.7L1232.3 745" class="lt"/>
<polygon points="1190.2,698.5 1209.4,698.5 1209.4,707.2" class="l"/><text x="1198" y="695.7" class="s">12</text><text x="1214" y="704.2" class="s" text-anchor="middle">5.5</text>
<use href="#hx" x="1130" y="701.7" width="22" height="22"/>
<text x="1141" y="711" class="s" text-anchor="middle">TRUSS</text><text x="1141" y="715.5" class="s" text-anchor="middle">"B"</text>
<text class="s" transform="translate(1081.4,706) rotate(66)" text-anchor="middle">3 1/2"</text>
<text x="1097" y="742.8" class="s">2-2x6</text><text x="1147" y="742.8" class="s" text-anchor="end">2-2x6</text>
<text x="1207.4" y="727" class="s" text-anchor="end">1"x4 SPACER</text>
<text x="1259" y="742.8" class="s">1/2" PLY</text>
<text x="1229" y="753.7" class="s" text-anchor="end">8x9 BEAM</text>
<line x1="1050" y1="762.5" x2="1262" y2="762.5" class="lt"/>
<path d="M1056.1 740V765M1072.8 740V765M1238.4 740V765M1255.6 740V765" class="lt"/>
<text x="1155.9" y="763.7" class="m w" text-anchor="middle">15'-2 1/2"</text>
<text x="1037.8" y="759.8" class="m" text-anchor="middle">1'-6 1/2"</text><text x="1037.8" y="766" class="s" text-anchor="middle">O/HANG</text>
<text x="1272.8" y="759.8" class="m" text-anchor="middle">1'-6 1/2"</text><text x="1272.8" y="766" class="s" text-anchor="middle">O/HANG</text>
<line x1="1029.8" y1="688.9" x2="1029.8" y2="737" class="lt"/>
<line x1="1042.7" y1="688.9" x2="1042.7" y2="727" class="lt"/>
<path d="M1027 688.9H1155M1027 727H1050M1027 737H1055" class="lt"/>
<text class="s w" transform="translate(1031.3,712.7) rotate(-90)" text-anchor="middle">4'-5 1/8"</text>
<text class="s w" transform="translate(1044.2,707.3) rotate(-90)" text-anchor="middle">3'-5 7/8"</text>
<text class="s" transform="translate(1040.8,745.5) rotate(-90)" text-anchor="middle">11 1/4"</text>
<text x="1074.2" y="784" style="font-size:6.8px">ENG. TRUSS – Bathtub Bay/Covered Deck</text>
<line x1="1074.2" y1="786.3" x2="1241.2" y2="786.3" class="l"/>
<text x="1074.2" y="792" class="m">SCALE 1/4" = 1'-0"</text>
<use href="#hx" x="1050.9" y="775.6" width="22" height="22"/>
<text x="1061.9" y="785" class="s" text-anchor="middle">TRUSS</text><text x="1061.9" y="789.6" class="s" text-anchor="middle">"B"</text>
</g>

<!-- ============ GARAGE TRUSS ============ -->
<g>
<polygon points="878.5,887.7 1004,830.8 1129.5,887.7 1129.5,891.3 1004,834.4 878.5,891.3" class="l"/>
<rect x="900.9" y="883" width="205.4" height="2.8" class="l"/>
<rect x="900.9" y="878" width="3.4" height="5" class="l"/><rect x="1103" y="878" width="3.4" height="5" class="l"/>
<path d="M1004 834V883" class="th" style="stroke-width:.6;stroke-dasharray:5 2"/>
<path d="M963.9 852.2L1004 883.6L1045 852.2" class="th" style="stroke-width:.6;stroke-dasharray:7 2"/>
<use href="#hx" x="980.7" y="844.4" width="22" height="22"/>
<text x="991.7" y="853.8" class="s" text-anchor="middle">TRUSS</text><text x="991.7" y="858.4" class="s" text-anchor="middle">"C"</text>
<polygon points="1045.6,841.2 1064.2,841.2 1064.2,849.4" class="l"/><text x="1054" y="838.6" class="s">12</text><text x="1069.3" y="846.3" class="s" text-anchor="middle">5.5</text>
<text class="s" transform="translate(909.5,859) rotate(66)" text-anchor="middle">3 1/2"</text>
<text x="922.4" y="892.6" class="s">2-2x6</text><text x="1084.8" y="892.6" class="s" text-anchor="end">2-2x6</text>
<line x1="875" y1="912.8" x2="1132" y2="912.8" class="lt"/>
<path d="M878.5 893V916M900.9 893V916M1106.3 893V916M1129.5 893V916" class="lt"/>
<text x="1004" y="914" class="s w" text-anchor="middle">18'-11"</text>
<text x="861.3" y="910.8" class="m" text-anchor="middle">2'-0 1/2"</text><text x="861.3" y="916.6" class="s" text-anchor="middle">O/HANG</text>
<text x="1147.3" y="910.8" class="m" text-anchor="middle">2'-0 1/2"</text><text x="1147.3" y="916.6" class="s" text-anchor="middle">O/HANG</text>
<line x1="857.9" y1="830.8" x2="857.9" y2="888" class="lt"/>
<line x1="870.8" y1="830.8" x2="870.8" y2="898" class="lt"/>
<path d="M855 830.8H1000M855 877.6H897M855 888H880" class="lt"/>
<text class="s w" transform="translate(859.4,857.6) rotate(-90)" text-anchor="middle">5'-2"</text>
<text class="s w" transform="translate(872.3,852.2) rotate(-90)" text-anchor="middle">4'-4"</text>
<text class="s" transform="translate(872.3,896) rotate(-90)" text-anchor="middle">10"</text>
<text x="922.9" y="927.5" style="font-size:6.8px">ENG. TRUSS – Garage</text>
<line x1="922.9" y1="929.3" x2="1014" y2="929.3" class="l"/>
<text x="922.9" y="935.8" class="m">SCALE 1/4" = 1'-0"</text>
<use href="#hx" x="900.5" y="919.6" width="22" height="22"/>
<text x="911.5" y="929" class="s" text-anchor="middle">TRUSS</text><text x="911.5" y="933.6" class="s" text-anchor="middle">"C"</text>
</g>

<!-- ============ BOTTOM LEFT ITEMS ============ -->
<g>
<text x="426.3" y="822.8" style="font-size:6.8px">2nd FLOOR – ROOF PLAN</text>
<line x1="424.9" y1="826.2" x2="528.8" y2="826.2" class="l" style="stroke-width:.6"/>
<text x="426.3" y="833.4" class="m">SCALE 1/4" = 1'-0"</text>
<text x="563" y="821.4" class="m">SCALE BAR</text>
<line x1="561.6" y1="824.1" x2="782.3" y2="824.1" class="l"/>
<rect x="563.8" y="837" width="218.5" height="5.9" fill="#eee" stroke="#000" stroke-width=".35"/>
<path d="M574.7 837V843M585.6 837V843M596.6 837V843M607.5 837V843M618.4 837V843M629.4 837V843M640.3 837V843M651.2 837V843M662.1 837V843M673.1 837V843M684 837V843M695 837V843M705.9 837V843M716.8 837V843M727.7 837V843M738.7 837V843M749.6 837V843M760.5 837V843M771.5 837V843" class="lt"/>
<g class="s" text-anchor="middle">
<text x="574.7" y="833.8">1</text><text x="596.6" y="833.8">3</text><text x="618.4" y="833.8">5</text><text x="640.3" y="833.8">7</text><text x="662.1" y="833.8">9</text><text x="684" y="833.8">11</text><text x="705.9" y="833.8">13</text><text x="727.7" y="833.8">15</text><text x="749.6" y="833.8">17</text><text x="771.5" y="833.8">19</text>
<text x="563.8" y="849.1">0</text><text x="585.6" y="849.1">2</text><text x="607.5" y="849.1">4</text><text x="629.4" y="849.1">6</text><text x="651.2" y="849.1">8</text><text x="673.1" y="849.1">10</text><text x="695" y="849.1">12</text><text x="716.8" y="849.1">14</text><text x="738.7" y="849.1">16</text><text x="760.5" y="849.1">18</text><text x="782.3" y="849.1">20</text>
</g>
<!-- overhang box -->
<rect x="383" y="869.5" width="232.3" height="29.5" class="gr"/>
<rect x="381.2" y="871.3" width="232.4" height="54.7" fill="#fff" stroke="#555" stroke-width=".45"/>
<g style="font-size:4.8px" text-anchor="middle">
<text x="498.2" y="879.2" textLength="74" lengthAdjust="spacingAndGlyphs">ROOF OVERHANG – TYPICAL</text>
<text x="498.2" y="889.3" textLength="226" lengthAdjust="spacingAndGlyphs">EAVES 2x6 LOOKOUT (2'-0") OVERHANG FROM OUTER EXTERIOR PLY TO 2x6 HEADER</text>
<text x="498.2" y="900" textLength="196" lengthAdjust="spacingAndGlyphs">EAVES TRUSS (2'-0 1/2") OVERHANG FROM OUTER STUD TO 2x6 HEADER</text>
<text x="498.2" y="911" textLength="170" lengthAdjust="spacingAndGlyphs">GABLE 2x6 LOOKOUT (1'-4") FROM OUTER PLY TO RAKE BOARD</text>
<text x="498.2" y="922.2" textLength="145" lengthAdjust="spacingAndGlyphs">GABLE BATHTUB/DECK – 2x4 GABLE LADDER (0'-10")</text>
</g>
<!-- 5.5:12 box -->
<rect x="279" y="891" width="91" height="25" class="gr"/>
<rect x="277" y="893" width="91" height="25" fill="#fff" stroke="#555" stroke-width=".4"/>
<text x="322.5" y="901" class="s" text-anchor="middle">5.5:12 ROOF SLOPE (TYPICAL)</text>
<text x="322.5" y="906" class="s" text-anchor="middle">EXCEPT</text>
<text x="322.5" y="911.5" class="s" text-anchor="middle">OTHERWISE STATED</text>
<!-- legend -->
<text x="642.3" y="875.4" class="m">LEGEND</text>
<rect x="635.4" y="878.6" width="134" height="47.4" fill="#fff" stroke="#999" stroke-width=".45"/>
<line x1="639.5" y1="894.6" x2="671" y2="894.6" class="dd" style="stroke-width:.6"/>
<text x="677" y="896.2" class="s">BEAM, SEE MAIN FLOOR</text>
<text x="677" y="901.8" style="font-size:3px" class="g">(SEE MAIN FLOOR-FRAMING PLAN FOR SPEC.)</text>
<rect x="645" y="910.8" width="5.5" height="4.8" class="lt"/><path d="M645 910.8L650.5 915.6M650.5 910.8L645 915.6" class="lt"/>
<text x="651.5" y="915" class="s">OR</text>
<rect x="659.5" y="910.8" width="3.8" height="4.8" class="lt"/>
<text x="677" y="912.2" class="s">POINT LOAD</text>
<text x="677" y="918" class="s">SOLID WOOD OR BUILT-UP POST</text>
</g>

<!-- ============ NOTES BOXES ============ -->
<g class="s" text-anchor="middle">
<rect x="1182.2" y="862.6" width="150.8" height="17" class="lt"/>
<text x="1257.6" y="869.5">BEFORE ORDERING OR CUTTING TRUSSES/BEAMS/POSTS</text>
<text x="1257.6" y="875.5">ACCURATE FINAL DIMENSION HAVE TO BE TAKEN ON SITE</text>
<rect x="1182.2" y="882" width="150.8" height="14.7" class="lt"/>
<text x="1257.6" y="888.3">REFER TO MANUFACTURER'S TRUSS DRAWINGS</text>
<text x="1257.6" y="893.5">FOR APPROVED TRUSS LAYOUT</text>
<rect x="1182.2" y="899" width="150.8" height="17.3" class="lt"/>
<text x="1257.6" y="906">DRAWING TO BE READ IN CONJUNCTION WITH</text>
<text x="1257.6" y="912">STRUCTURAL/MECHANICAL &amp; ELECTRICAL DRAWINGS</text>
<rect x="1182.2" y="919" width="150.8" height="16.4" class="lt"/>
<text x="1257.6" y="926">REFER TO STRUCTURAL ENGINEER DRAWINGS</text>
<text x="1257.6" y="931.5">FOR STRUCTURAL DETAILS</text>
<rect x="1182.2" y="938.3" width="150.8" height="16.2" class="lt"/>
<text x="1257.6" y="945">ALL PRODUCTS USED MUST BE INSTALLED</text>
<text x="1257.6" y="950.5">TO MANUFACTURER'S SPECIFICATION &amp; LAYOUT</text>
<rect x="1182.2" y="957.5" width="150.8" height="8" class="lt"/>
<text x="1257.6" y="963">ALL DIMENSIONS HAVE TO BE CONFIRMED ON SITE</text>
</g>
<rect x="1115" y="969.8" width="218" height="43.2" class="lt"/>
<g class="s">
<text x="1118" y="975">NOTE:</text>
<text x="1118" y="980.5" textLength="212" lengthAdjust="spacingAndGlyphs">GREAT CARE AND EFFORT HAS BEEN TAKEN IN THE MAKING OF THIS DESIGN.</text>
<text x="1118" y="986.5" textLength="212" lengthAdjust="spacingAndGlyphs">3D DIRON DESIGN &amp; DRAFTING SERVICES CANNOT ASSUME ANY RESPONSIBILITY</text>
<text x="1118" y="992.5" textLength="206" lengthAdjust="spacingAndGlyphs">FOR DAMAGE AS A RESULT OF ERRORS OR OMISSIONS. IT IS RECOMMENDED</text>
<text x="1118" y="998.5" textLength="208" lengthAdjust="spacingAndGlyphs">THAT THE OWNER AND/OR BUILDER CONSULT A LOCAL ENGINEER AND CHECK</text>
<text x="1118" y="1004.5" textLength="212" lengthAdjust="spacingAndGlyphs">WITH YOUR LOCAL BUILDING OFFICIALS PRIOR TO THE START OF CONSTRUCTION.</text>
</g>

<!-- ============ TITLE BLOCK ============ -->
<g>
<rect x="1336.3" y="757.7" width="195.9" height="258.3" fill="#fff" stroke="#000" stroke-width=".5"/>
<path d="M1336.3 774.6H1532.2M1336.3 788.2H1532.2M1356.6 757.7V815.3M1397.2 757.7V815.3" class="lt"/>
<path d="M1336.3 801.6H1532.2M1336.3 815.3H1532.2M1336.3 886.4H1532.2M1336.3 952.4H1532.2" class="th" style="stroke-width:.7"/>
<rect x="1338.9" y="818" width="191" height="65.9" class="lt"/>
<rect x="1338.9" y="889.4" width="191" height="60" class="lt"/>
<path d="M1401.3 952.4V1016M1462.6 952.4V1016M1401.3 974H1532.2M1401.3 995.7H1532.2M1432.4 974V995.7" class="l"/>
<rect x="1338.9" y="954.6" width="60.1" height="60.1" class="lt"/>
<path d="M1346 968.4H1392M1346 988.2H1392" class="lt"/>
<text x="1376.5" y="797" text-anchor="middle" style="font-size:4.8px">June 2018</text>
<text x="1402.2" y="798" style="font-size:7px">Development/Building Permit</text>
<text x="1341.3" y="811.6" style="font-size:4.6px">NO</text>
<text x="1364.6" y="811.6" style="font-size:4.6px">DATE</text>
<text x="1406.3" y="811.9" style="font-size:4.6px">REVISION/ISSUE</text>
<text x="1435.5" y="840.8" text-anchor="middle" style="font-size:23px;font-weight:bold;fill:#fff;stroke:#000;stroke-width:.6">3D</text>
<text x="1434" y="839.6" text-anchor="middle" style="font-size:23px;font-weight:bold;fill:#444;stroke:#000;stroke-width:.4">3D</text>
<text x="1340.5" y="852.4" style="font-size:10.2px;font-weight:bold" textLength="188.5" lengthAdjust="spacingAndGlyphs">Diron Design &amp; Drafting Services</text>
<text x="1341.3" y="869" style="font-size:7.6px">915 Island Highway</text>
<text x="1529" y="869" text-anchor="end" style="font-size:7.6px">Sayward BC  V0P 1R0</text>
<text x="1341.3" y="879.2" style="font-size:7.6px" textLength="187.5" lengthAdjust="spacingAndGlyphs">Tel. 1250 282 3695  3djens@gmail.com  web:3djens.com</text>
<text x="1434.4" y="900" text-anchor="middle" style="font-size:7.4px">New Residence For Peter &amp; Elke Spindler</text>
<text x="1434.4" y="911.6" text-anchor="middle" style="font-size:7.4px">1708 Rainforest Lane, Ucluelet, BC</text>
<text x="1434.4" y="934.3" text-anchor="middle" style="font-size:10px">2nd Floor – Roof Plan</text>
<text x="1434.4" y="944.8" text-anchor="middle" style="font-size:7.2px">Engineered Truss &amp; Rafter Sections</text>
<text x="1369" y="964.3" text-anchor="middle" style="font-size:6.2px">Owner</text>
<text x="1369" y="978.3" text-anchor="middle" style="font-size:5px">Mr &amp; Mrs Spindler</text>
<text x="1369" y="984.7" text-anchor="middle" style="font-size:5px">1-604-213-7867</text>
<text x="1404.2" y="959" style="font-size:5.4px">Date Plotted:</text>
<text x="1432.4" y="968.9" text-anchor="middle" style="font-size:5.4px">30.05.2018</text>
<text x="1468.8" y="959" style="font-size:5.4px">Job No.</text>
<text x="1500.6" y="968.9" text-anchor="middle" style="font-size:5.4px">#A1713</text>
<text x="1404.2" y="980.9" style="font-size:5.4px">Designed</text>
<text x="1418.5" y="991" text-anchor="middle" style="font-size:5.4px">JD</text>
<text x="1437.2" y="980.9" style="font-size:5.4px">Drawn:</text>
<text x="1451.4" y="991" text-anchor="middle" style="font-size:5.4px">JD</text>
<text x="1468.8" y="980.9" style="font-size:5.4px">Dwg</text>
<text x="1498.9" y="980.9" style="font-size:5.4px">of</text>
<text x="1487.5" y="991" text-anchor="middle" style="font-size:5.4px">8</text>
<text x="1510.6" y="991" text-anchor="middle" style="font-size:5.4px">10</text>
<text x="1404.2" y="1002.9" style="font-size:5.4px">Scale:</text>
<text x="1432.4" y="1013" text-anchor="middle" style="font-size:5.4px">as Shown</text>
<text x="1468.8" y="1002.9" style="font-size:5.4px">Sheet No.</text>
<text x="1506.7" y="1014.3" text-anchor="middle" style="font-size:14px">A08</text>
</g>
</svg>
</body></html>
